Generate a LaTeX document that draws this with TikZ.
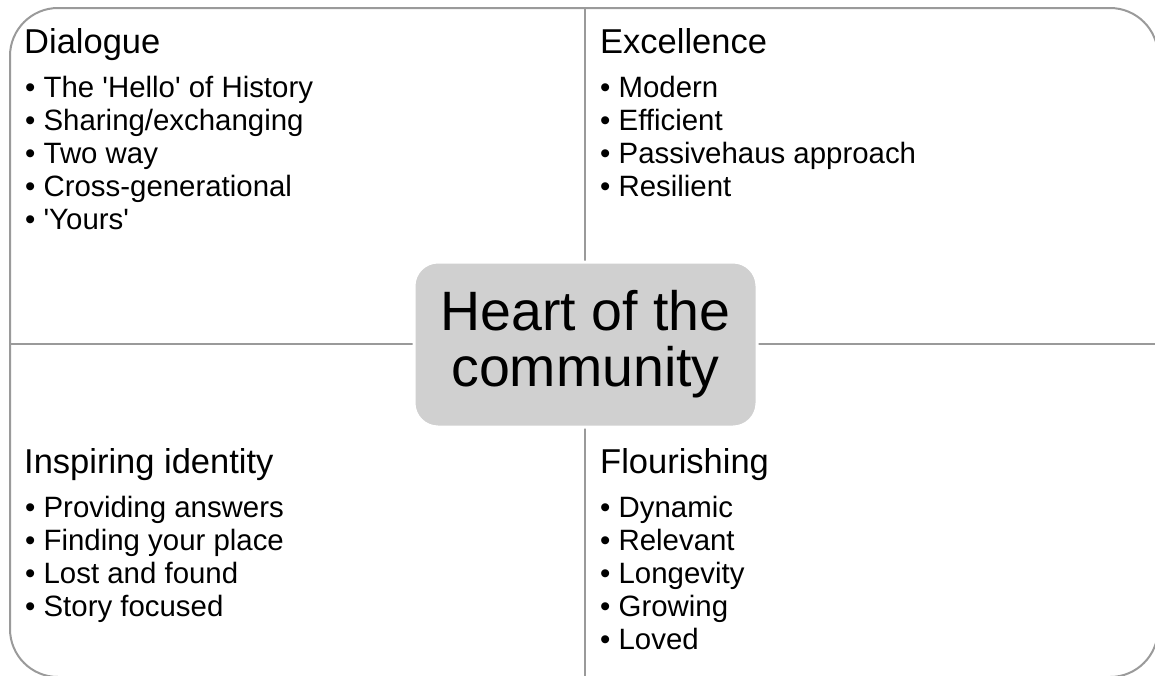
\documentclass[tikz,border=0pt]{standalone}
\usepackage{fontspec}
\setmainfont{Liberation Sans}
\usetikzlibrary{positioning}
\definecolor{heartgray}{HTML}{D0D0D0}
\definecolor{framegray}{HTML}{9A9A9A}

\begin{document}
\begin{tikzpicture}[
  x=1pt,y=-1pt,
  title/.style={anchor=base west,inner sep=0pt,font=\fontsize{34.5}{40}\selectfont},
  item/.style={anchor=base west,inner sep=0pt,font=\fontsize{29.4}{33}\selectfont},
  hub/.style={fill=heartgray,draw=white,line width=3pt,rounded corners=24pt,
    minimum width=343pt,minimum height=165pt,align=center,
    font=\fontsize{55.5}{56}\selectfont},
  frame/.style={draw=framegray,line width=2pt}
]
  \useasboundingbox (0,0) rectangle (1155,675);
  \clip (0,0) rectangle (1155,675);

  % Outer frame and quadrant dividers
  \draw[frame,rounded corners=48pt] (10,8) rectangle (1158,677);
  \draw[frame] (585,8) -- (585,677);
  \draw[frame] (10,344) -- (1158,344);

  % Quadrant: top left
  \node[title] (dlgT) at (24,53) {Dialogue};
  \node[item] (dlg1) at (25,97) {• The \textquotesingle Hello\textquotesingle\ of History};
  \node[item] (dlg2) at (25,130) {• Sharing/exchanging};
  \node[item] (dlg3) at (25,163) {• Two way};
  \node[item] (dlg4) at (25,196) {• Cross-generational};
  \node[item] (dlg5) at (25,229) {• \textquotesingle Yours\textquotesingle};

  % Quadrant: top right
  \node[title] (excT) at (600,53) {Excellence};
  \node[item] (exc1) at (600,97) {• Modern};
  \node[item] (exc2) at (600,130) {• Efficient};
  \node[item] (exc3) at (600,163) {• Passivehaus approach};
  \node[item] (exc4) at (600,196) {• Resilient};

  % Quadrant: bottom left
  \node[title] (insT) at (24,473) {Inspiring identity};
  \node[item] (ins1) at (25,517) {• Providing answers};
  \node[item] (ins2) at (25,550) {• Finding your place};
  \node[item] (ins3) at (25,583) {• Lost and found};
  \node[item] (ins4) at (25,616) {• Story focused};

  % Quadrant: bottom right
  \node[title] (flrT) at (600,473) {Flourishing};
  \node[item] (flr1) at (600,517) {• Dynamic};
  \node[item] (flr2) at (600,550) {• Relevant};
  \node[item] (flr3) at (600,583) {• Longevity};
  \node[item] (flr4) at (600,616) {• Growing};
  \node[item] (flr5) at (600,649) {• Loved};

  % Centre
  \node[hub] (heart) at (585.5,344.5) {Heart of the\\community};
\end{tikzpicture}
\end{document}
